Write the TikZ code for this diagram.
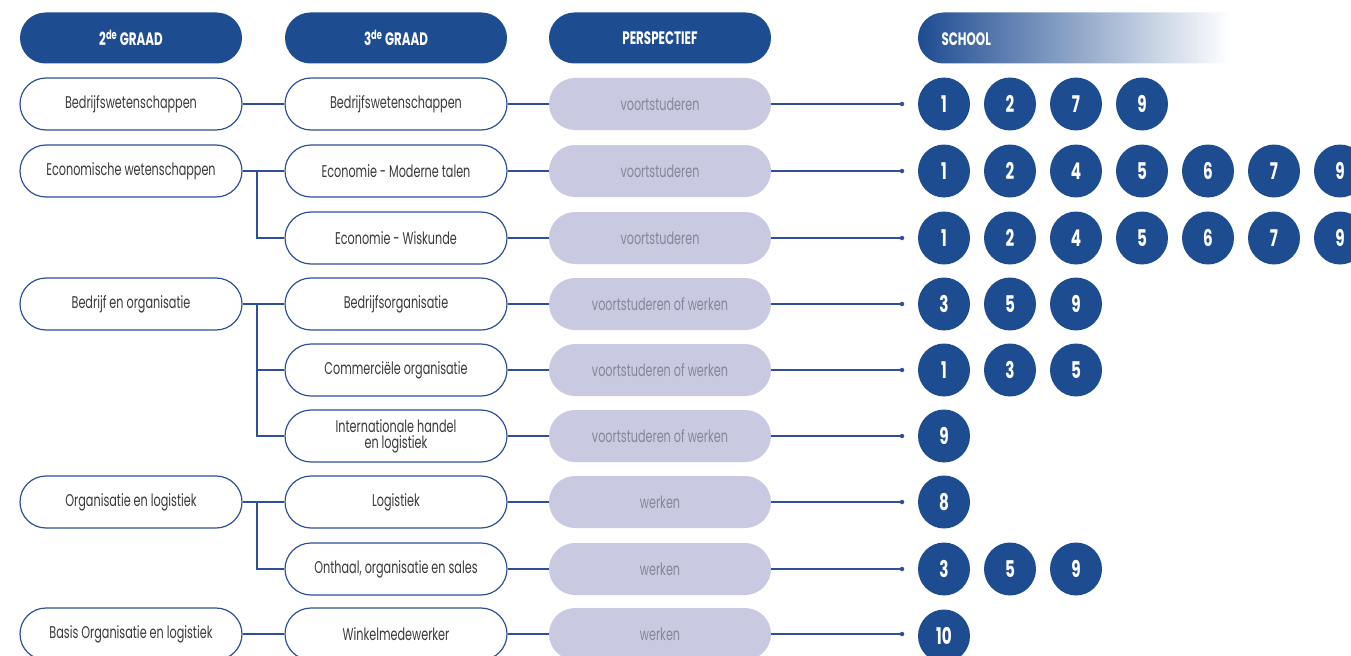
\documentclass[tikz,border=0pt]{standalone}
\usepackage{fontspec}
\setmainfont{Poppins}[FakeStretch=0.66]
\usetikzlibrary{shapes.misc,shapes.geometric}
\definecolor{dblue}{HTML}{1E4C91}
\definecolor{oblue}{HTML}{2F4F98}
\definecolor{lav}{HTML}{C9C9E1}
\definecolor{tgray}{HTML}{3A3A3A}
\definecolor{pgray}{HTML}{85859A}
\tikzset{
  hdr/.style={rounded rectangle, fill=dblue, minimum width=222bp, minimum height=51bp, inner sep=0pt, text=white, font=\fontsize{18bp}{20bp}\selectfont\bfseries},
  opt/.style={rounded rectangle, draw=oblue, line width=1.2bp, fill=white, minimum width=222bp, minimum height=52bp, inner sep=0pt, text=tgray, align=center, font=\fontsize{17bp}{16bp}\selectfont},
  persp/.style={rounded rectangle, fill=lav, minimum width=222bp, minimum height=52bp, inner sep=0pt, text=pgray, font=\fontsize{17bp}{18bp}\selectfont},
  num/.style={ellipse, fill=dblue, minimum width=52bp, minimum height=53bp, inner sep=0pt, text=white, font=\fontsize{23bp}{24bp}\selectfont\bfseries},
  conn/.style={draw=oblue, line width=1.2bp},
  enddot/.style={circle, fill=oblue, inner sep=0pt, minimum size=4.5bp},
}
\begin{document}
\begin{tikzpicture}[x=1bp,y=-1bp]
\useasboundingbox (0,0) rectangle (1351,656);
% headers
\node[hdr] (h1) at (131,38) {2\textsuperscript{de} GRAAD};
\node[hdr] (h2) at (396,38) {3\textsuperscript{de} GRAAD};
\node[hdr] (h3) at (660,38) {PERSPECTIEF};
\node[rounded rectangle, rounded rectangle right arc=none, left color=dblue, right color=white, minimum width=312bp, minimum height=51bp, inner sep=0pt] (h4) at (1074,38) {};
\node[anchor=west, text=white, font=\fontsize{18bp}{20bp}\selectfont\bfseries] (h4t) at (938,39) {SCHOOL};
% column 1
\node[opt] (a1) at (131,104) {Bedrijfswetenschappen};
\node[opt] (a2) at (131,171) {Economische wetenschappen};
\node[opt] (a4) at (131,304) {Bedrijf en organisatie};
\node[opt] (a7) at (131,502) {Organisatie en logistiek};
\node[opt] (a9) at (131,634) {Basis Organisatie en logistiek};
% column 2
\node[opt] (b1) at (396,104) {Bedrijfswetenschappen};
\node[opt] (b2) at (396,171) {Economie - Moderne talen};
\node[opt] (b3) at (396,238) {Economie - Wiskunde};
\node[opt] (b4) at (396,304) {Bedrijfsorganisatie};
\node[opt] (b5) at (396,370) {Commerciële organisatie};
\node[opt] (b6) at (396,436) {Internationale handel\\en logistiek};
\node[opt] (b7) at (396,502) {Logistiek};
\node[opt] (b8) at (396,569) {Onthaal, organisatie en sales};
\node[opt] (b9) at (396,634) {Winkelmedewerker};
% column 3
\node[persp] (c1) at (660,104) {voortstuderen};
\node[persp] (c2) at (660,171) {voortstuderen};
\node[persp] (c3) at (660,238) {voortstuderen};
\node[persp] (c4) at (660,304) {voortstuderen of werken};
\node[persp] (c5) at (660,370) {voortstuderen of werken};
\node[persp] (c6) at (660,436) {voortstuderen of werken};
\node[persp] (c7) at (660,502) {werken};
\node[persp] (c8) at (660,569) {werken};
\node[persp] (c9) at (660,634) {werken};
% connectors col1 -> col2
\draw[conn] (a1.east) -- (b1.west);
\draw[conn] (a2.east) -- (b2.west);
\draw[conn] (a4.east) -- (b4.west);
\draw[conn] (a7.east) -- (b7.west);
\draw[conn] (a9.east) -- (b9.west);
\coordinate (j2) at (257,171);
\coordinate (j4) at (257,304);
\coordinate (j7) at (257,502);
\draw[conn] (j2) |- (b3.west);
\draw[conn] (j4) |- (b6.west);
\draw[conn] (j4) |- (b5.west);
\draw[conn] (j7) |- (b8.west);
% col2 -> col3 -> dots
\foreach \r/\y in {1/104,2/171,3/238,4/304,5/370,6/436,7/502,8/569,9/634}{
  \draw[conn] (b\r.east) -- (c\r.west);
  \node[enddot] (d\r) at (902,\y) {};
  \draw[conn] (c\r.east) -- (d\r.center);
}
% school numbers
\foreach \r/\y/\list in {1/104/{1,2,7,9},2/171/{1,2,4,5,6,7,9},3/238/{1,2,4,5,6,7,9},4/304/{3,5,9},5/370/{1,3,5},6/436/{9},7/502/{8},8/569/{3,5,9},9/636/{10}}{
  \foreach \n [count=\k from 0] in \list {
    \node[num] (s\r-\k) at (944+66*\k,\y) {\n};
  }
}
\end{tikzpicture}
\end{document}
